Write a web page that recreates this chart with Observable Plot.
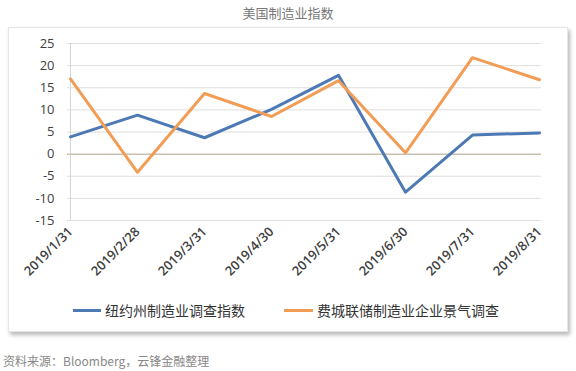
<!DOCTYPE html>
<html><head><meta charset="utf-8">
<script src="https://cdn.jsdelivr.net/npm/d3@7"></script>
<script src="https://cdn.jsdelivr.net/npm/@observablehq/plot@0.6"></script>
<style>
body{margin:0;background:#fff;font-family:"Noto Sans CJK SC","Noto Sans",sans-serif;}
#wrap{position:relative;width:576px;height:371px;overflow:hidden;background:#fff}
#title{position:absolute;top:3px;left:0;width:576px;text-align:center;font-size:13px;color:#777;line-height:20px}
#box{position:absolute;left:8px;top:27px;width:558px;height:303px;border:1px solid #e6e6e6;box-shadow:2px 3px 4px rgba(0,0,0,0.28);background:#fff}
#chart{position:absolute;left:0;top:0}
.sw{position:absolute;height:3px;top:309px}
.lt{position:absolute;top:300px;font-size:14px;line-height:20px;color:#333;white-space:nowrap}
#caption{position:absolute;left:3px;top:351px;font-size:12px;line-height:20px;color:#888}
</style></head>
<body>
<div id="wrap">
  <div id="title"></div>
  <div id="box"></div>
  <div id="chart"></div>
  <div class="sw" id="sw0" style="left:73px;width:28px"></div>
  <div class="lt" id="lt0" style="left:105px"></div>
  <div class="sw" id="sw1" style="left:284px;width:29px"></div>
  <div class="lt" id="lt1" style="left:317px"></div>
  <div id="caption"></div>
</div>
<script>
const title = "美国制造业指数";
const caption = "资料来源：Bloomberg，云锋金融整理";
const dates = ["2019/1/31","2019/2/28","2019/3/31","2019/4/30","2019/5/31","2019/6/30","2019/7/31","2019/8/31"];
const seriesNames = ["纽约州制造业调查指数","费城联储制造业企业景气调查"];
const nyValues = [3.9, 8.8, 3.7, 10.1, 17.8, -8.6, 4.3, 4.8];
const phillyValues = [17.0, -4.1, 13.7, 8.5, 16.6, 0.3, 21.8, 16.8];
const yTicks = [-15,-10,-5,0,5,10,15,20,25];
const colors = ["#4d79b4","#f19d56"];

const table = [];
dates.forEach((d,i)=>{
  table.push({date:d, value:nyValues[i], series:seriesNames[0]});
  table.push({date:d, value:phillyValues[i], series:seriesNames[1]});
});

document.getElementById("title").textContent = title;
document.getElementById("caption").textContent = caption;
seriesNames.forEach((n,i)=>{
  document.getElementById("lt"+i).textContent = n;
  document.getElementById("sw"+i).style.background = colors[i];
});

const chart = Plot.plot({
  width:576, height:300,
  marginTop:43, marginBottom:80, marginLeft:67, marginRight:35,
  style:{background:"transparent", fontFamily:"'Open Sans','Noto Sans',sans-serif", fontSize:"13px", color:"#404040"},
  x:{type:"point", domain:dates, padding:0, label:null},
  y:{domain:[-15,25], label:null},
  color:{domain:seriesNames, range:colors},
  marks:[
    Plot.gridY(yTicks.filter(d=>d!==0), {stroke:"#dedede", strokeOpacity:1}),
    Plot.ruleX([dates[0]], {stroke:"#d6d6d6"}),
    Plot.ruleY([0], {stroke:"#c9c1b0", strokeWidth:1.5}),
    Plot.axisY(yTicks, {tickSize:0, tickPadding:13, fontSize:13, fill:"#404040", label:null, tickFormat:d=>String(d)}),
    Plot.axisX({tickRotate:-45, tickSize:0, tickPadding:9, fontSize:13, fontWeight:600, fill:"#404040", label:null}),
    Plot.line(table, {x:"date", y:"value", z:"series", stroke:"series", strokeWidth:3})
  ]
});
document.getElementById("chart").appendChild(chart);
</script>
</body></html>
